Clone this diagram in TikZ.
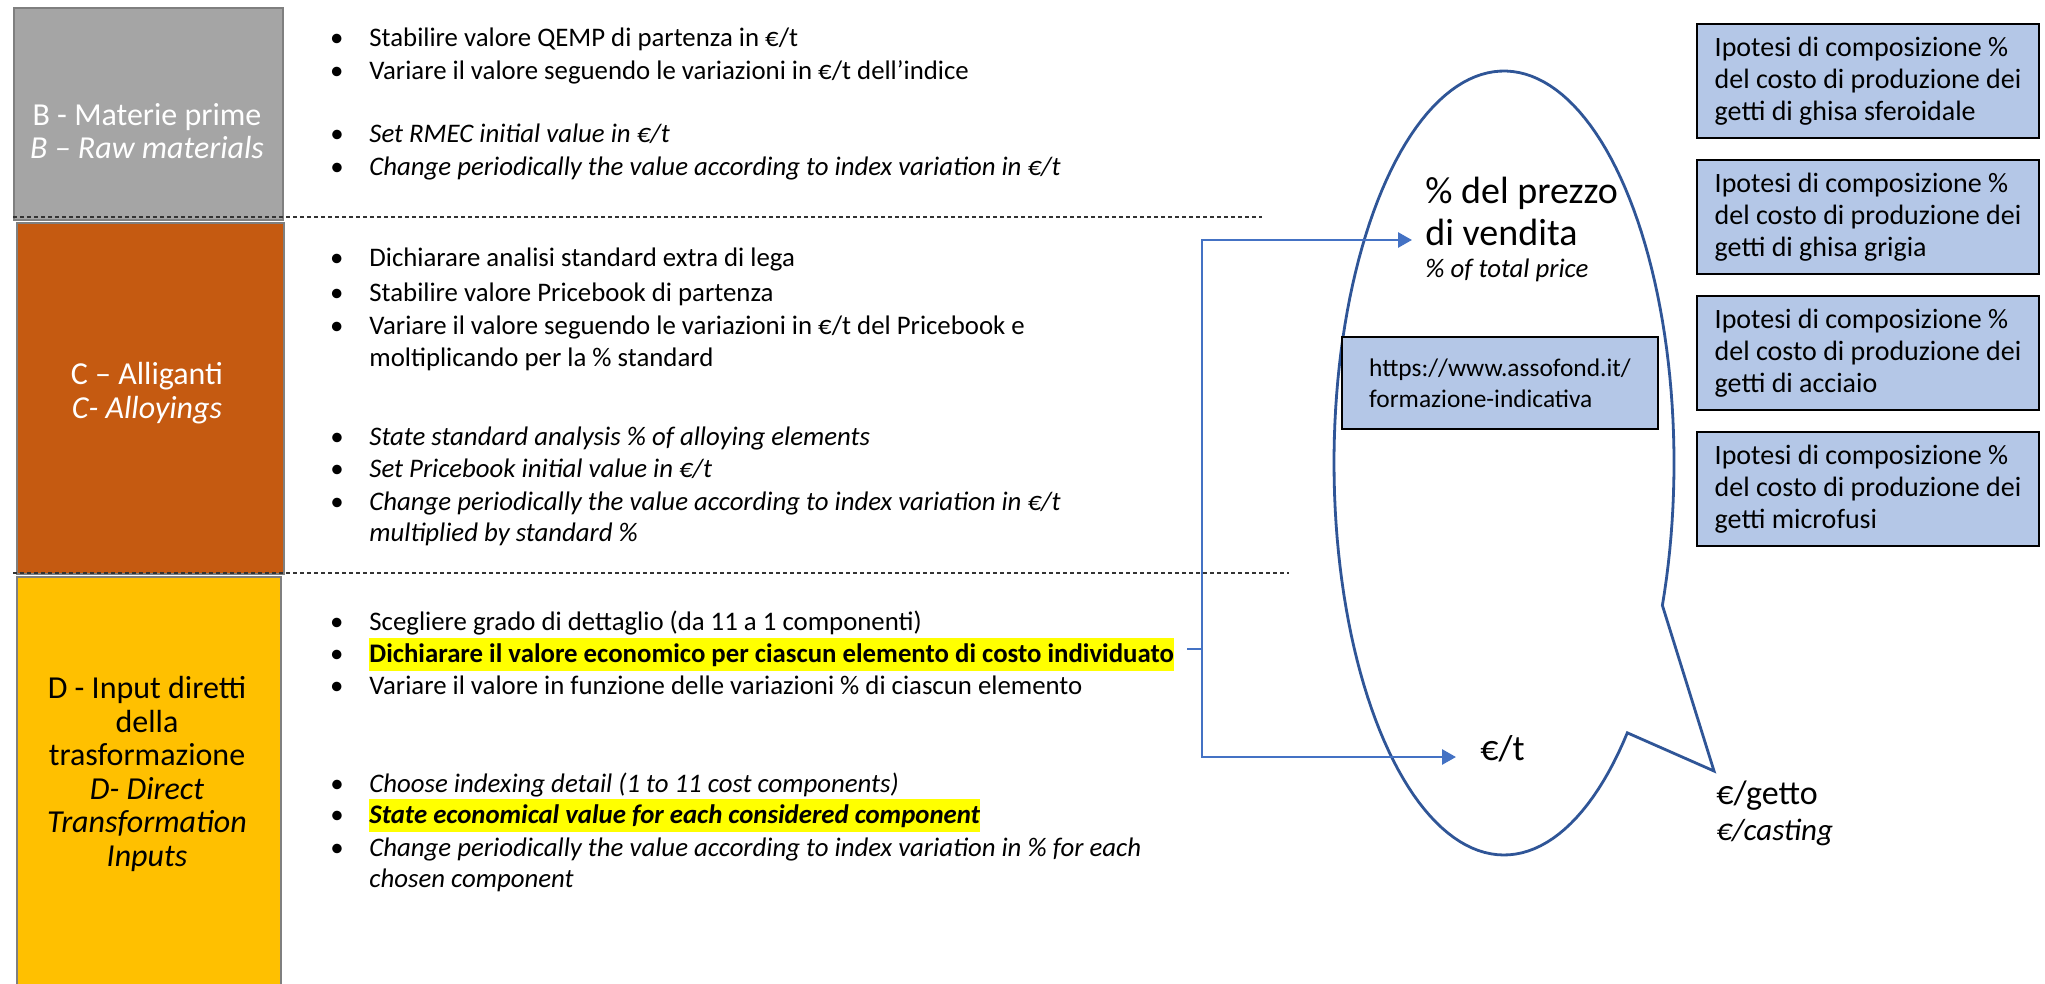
\documentclass[tikz,border=0pt]{standalone}
\usepackage{fontspec}
\setmainfont{Carlito}
\usetikzlibrary{arrows.meta}
\definecolor{greybox}{HTML}{A5A5A5}
\definecolor{orangebox}{HTML}{C55A11}
\definecolor{yellowbox}{HTML}{FFC000}
\definecolor{boxborder}{HTML}{7F7F7F}
\definecolor{lightblue}{HTML}{B4C7E7}
\definecolor{connblue}{HTML}{4472C4}
\definecolor{ellblue}{HTML}{2F5597}
\definecolor{hlyellow}{HTML}{FFFF00}
\newcommand{\mybul}{\llap{\textbullet\hspace{13pt}}}
\tikzset{
  catbox/.style={draw=boxborder, line width=1pt, inner sep=0pt, anchor=north west},
  catlabel/.style={align=center, inner sep=0pt, font=\fontsize{16}{16.8}\selectfont},
  bl/.style={anchor=base west, inner sep=0pt, font=\fontsize{13.4}{16}\selectfont},
  bli/.style={anchor=base west, inner sep=0pt, font=\fontsize{13.4}{16}\selectfont\itshape},
  hl/.style={fill=hlyellow, inner xsep=0pt, inner ysep=2.6pt},
  divider/.style={draw=black!80, line width=0.6pt, dash pattern=on 2pt off 1.5pt},
  connline/.style={draw=connblue, line width=1.4pt},
  arrowtip/.style={-{Triangle[length=7pt,width=7.5pt]}},
  bluebox/.style={draw=black, line width=1pt, fill=lightblue, align=left, inner sep=0pt,
    font=\fontsize{14}{16}\selectfont, anchor=north west},
  bigtxt/.style={anchor=base west, inner sep=0pt, font=\fontsize{18}{20}\selectfont},
}
\begin{document}
\begin{tikzpicture}[x=0.5pt,y=-0.5pt]
\useasboundingbox[fill=white] (0,0) rectangle (2045,984);

% category boxes
\node[catbox, fill=greybox, minimum width=134.5pt, minimum height=106pt] (boxB) at (13,7) {};
\node[catbox, fill=orangebox, minimum width=133.5pt, minimum height=175.5pt] (boxC) at (16,222) {};
\node[catbox, fill=yellowbox, minimum width=132pt, minimum height=210pt] (boxD) at (16,576) {};

\node[catlabel, text=white] (labB) at (147,131) {B - Materie prime\\\textit{B – Raw materials}};
\node[catlabel, text=white] (labC) at (147,393) {C – Alliganti\\\textit{C- Alloyings}};
\node[catlabel, text=black] (labD) at (147,774) {D - Input diretti\\della\\trasformazione\\\textit{D- Direct}\\\textit{Transformation}\\\textit{Inputs}};

% dividers
\coordinate (d1a) at (13,217);
\coordinate (d1b) at (1262,217);
\coordinate (d2a) at (13,573);
\coordinate (d2b) at (1289,573);
\draw[divider] (d1a) -- (d1b);
\draw[divider] (d2a) -- (d2b);

% B text
\node[bl] (b1) at (369,47) {\mybul Stabilire valore QEMP di partenza in €/t};
\node[bl] (b2) at (369,80) {\mybul Variare il valore seguendo le variazioni in €/t dell’indice};
\node[bli] (b3) at (369,143) {\mybul Set RMEC initial value in €/t};
\node[bli] (b4) at (369,176) {\mybul Change periodically the value according to index variation in €/t};

% C text
\node[bl] (c1) at (369,267) {\mybul Dichiarare analisi standard extra di lega};
\node[bl] (c2) at (369,301) {\mybul Stabilire valore Pricebook di partenza};
\node[bl] (c3) at (369,335) {\mybul Variare il valore seguendo le variazioni in €/t del Pricebook e};
\node[bl] (c4) at (369,366) {moltiplicando per la \% standard};
\node[bli] (c5) at (369,445) {\mybul State standard analysis \% of alloying elements};
\node[bli] (c6) at (369,477) {\mybul Set Pricebook initial value in €/t};
\node[bli] (c7) at (369,510) {\mybul Change periodically the value according to index variation in €/t};
\node[bli] (c8) at (369,541) {multiplied by standard \%};

% D text
\node[bl] (d1) at (369,630) {\mybul Scegliere grado di dettaglio (da 11 a 1 componenti)};
\node[bl, hl] (d2) at (369,662) {\mybul \textbf{Dichiarare il valore economico per ciascun elemento di costo individuato}};
\node[bl] (d3) at (369,694) {\mybul Variare il valore in funzione delle variazioni \% di ciascun elemento};
\node[bli] (d4) at (369,792) {\mybul Choose indexing detail (1 to 11 cost components)};
\node[bli, hl] (d5) at (369,823) {\mybul \textbf{State economical value for each considered component}};
\node[bli] (d6) at (369,856) {\mybul Change periodically the value according to index variation in \% for each};
\node[bli] (d7) at (369,887) {chosen component};

% callout ellipse
\draw[ellblue, line width=1.4pt, line join=miter]
  plot[domain=43.5:381.3, samples=160] ({1504+170*cos(\x)},{463+392*sin(\x)})
  -- (1714,771) -- cycle;

% texts in callout
\node[bigtxt, font=\fontsize{19}{21}\selectfont] (pct1) at (1425,204) {\% del prezzo};
\node[bigtxt, font=\fontsize{19}{21}\selectfont] (pct2) at (1425,246) {di vendita};
\node[bli] (pct3) at (1425,278) {\% of total price};
\node[bluebox, font=\fontsize{12.7}{15.5}\selectfont, minimum width=158pt, minimum height=46pt] (url) at (1341,336)
  {https://www.assofond.it/\\formazione-indicativa};
\node[bigtxt] (eurt) at (1480,760) {€/t};
\node[bigtxt, font=\fontsize{17}{20}\selectfont] (getto) at (1716,804) {€/getto};
\node[bli, font=\fontsize{15.5}{18}\selectfont\itshape] (casting) at (1716,840) {€/casting};

% right boxes
\node[bluebox, minimum width=171pt, minimum height=57pt] (r1) at (1696,23)
  {Ipotesi di composizione \%\\del costo di produzione dei\\getti di ghisa sferoidale};
\node[bluebox, minimum width=171pt, minimum height=57pt] (r2) at (1696,159)
  {Ipotesi di composizione \%\\del costo di produzione dei\\getti di ghisa grigia};
\node[bluebox, minimum width=171pt, minimum height=57pt] (r3) at (1696,295)
  {Ipotesi di composizione \%\\del costo di produzione dei\\getti di acciaio};
\node[bluebox, minimum width=171pt, minimum height=57pt] (r4) at (1696,431)
  {Ipotesi di composizione \%\\del costo di produzione dei\\getti microfusi};

% connector
\coordinate (elbow) at (1202,649);
\coordinate (pctin) at (1412,240);
\coordinate (eurin) at (1456,757);
\draw[connline] ([xshift=6.5pt]d2.east |- elbow) -- (elbow);
\draw[connline, arrowtip] (elbow) |- (pctin);
\draw[connline, arrowtip] (elbow) |- (eurin);
\end{tikzpicture}
\end{document}
